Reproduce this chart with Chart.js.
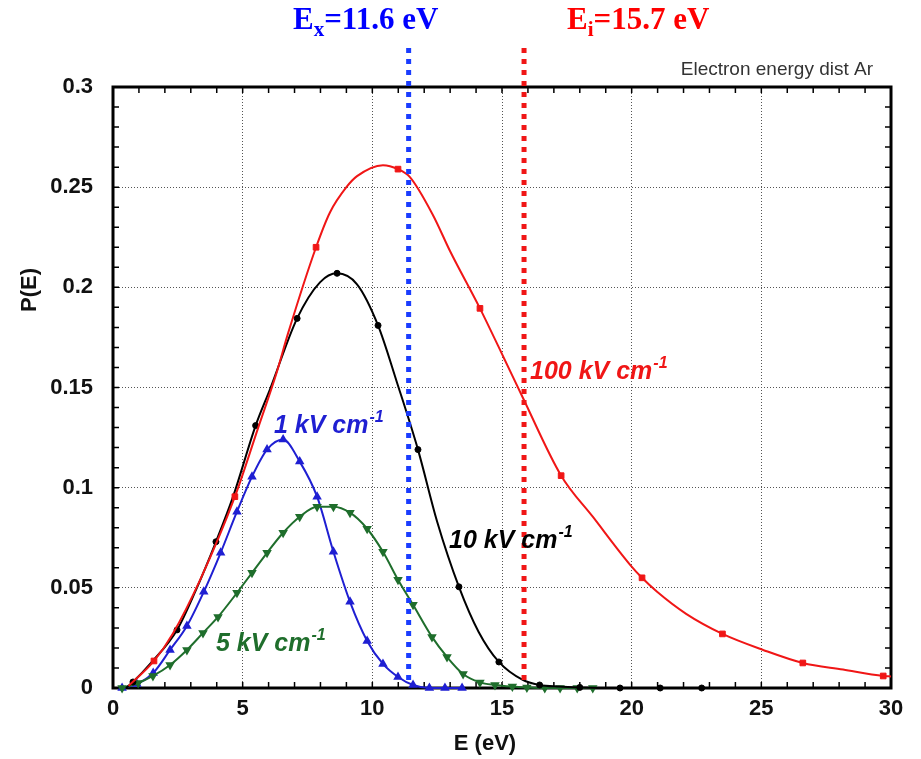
<!DOCTYPE html>
<html>
<head>
<meta charset="utf-8">
<script src="https://cdn.jsdelivr.net/npm/chart.js@4.4.1/dist/chart.umd.min.js"></script>
<style>
  html, body { margin: 0; padding: 0; background: #fff; }
</style>
</head>
<body>
<canvas id="chart" width="921" height="759"></canvas>
<script>
// Values: energy E (eV) and P(E)

// 1 kV/cm (blue, markers on every point)
const e1kV = [0.35, 0.92, 1.55, 2.2, 2.85, 3.5, 4.15, 4.78, 5.36, 5.94, 6.56, 7.2, 7.87, 8.5, 9.14, 9.8, 10.41, 10.99, 11.57, 12.2, 12.8, 13.46];
const p1kV = [0, 0.002, 0.0075, 0.019, 0.031, 0.048, 0.0675, 0.088, 0.1055, 0.119, 0.124, 0.113, 0.0955, 0.068, 0.043, 0.0235, 0.012, 0.0055, 0.0015, 0, 0, 0];

// 5 kV/cm (green, markers on every point)
const e5kV = [0.35, 0.97, 1.54, 2.2, 2.85, 3.47, 4.05, 4.78, 5.36, 5.94, 6.56, 7.2, 7.87, 8.5, 9.14, 9.8, 10.41, 10.99, 11.57, 12.3, 12.88, 13.5, 14.15, 14.73, 15.4, 15.96, 16.65, 17.24, 17.9, 18.5];
const p5kV = [0, 0.0025, 0.006, 0.0115, 0.019, 0.0275, 0.0355, 0.0475, 0.0575, 0.0675, 0.0775, 0.0855, 0.0905, 0.0905, 0.0875, 0.0795, 0.068, 0.054, 0.0415, 0.0255, 0.0155, 0.007, 0.0028, 0.0015, 0.0007, 0.0003, 0, 0, 0, 0];

// 10 kV/cm (black): curve and marker points
const e10kV = [0.5, 0.77, 1.5, 2.47, 3.2, 3.97, 4.63, 5.5, 6.05, 7.1, 7.98, 8.64, 9.41, 10.22, 10.95, 11.76, 12.5, 13.34, 14.1, 14.88, 15.8, 16.45, 17.2, 18.0, 19.55, 21.1, 22.7];
const p10kV = [0, 0.003, 0.013, 0.029, 0.049, 0.073, 0.0955, 0.131, 0.149, 0.1845, 0.2025, 0.207, 0.2015, 0.181, 0.1525, 0.119, 0.083, 0.0505, 0.028, 0.013, 0.004, 0.0015, 0.0007, 0.0003, 0, 0, 0];
const e10kVMarks = [0.77, 2.47, 3.97, 5.5, 7.1, 8.64, 10.22, 11.76, 13.34, 14.88, 16.45, 18.0, 19.55, 21.1, 22.7];
const p10kVMarks = [0.003, 0.029, 0.073, 0.131, 0.1845, 0.207, 0.181, 0.119, 0.0505, 0.013, 0.0015, 0.0003, 0, 0, 0];

// 100 kV/cm (red): curve and marker points
const e100kV = [0.6, 1.58, 2.3, 3.36, 4.7, 5.6, 6.3, 6.75, 7.83, 8.37, 9.0, 9.41, 10.41, 10.99, 11.45, 12.34, 13.0, 14.15, 15.1, 15.8, 17.28, 18.5, 19.94, 20.4, 20.98, 22.1, 23.5, 25.07, 26.6, 28.15, 29.7, 30];
const p100kV = [0.001, 0.0135, 0.027, 0.054, 0.0955, 0.13, 0.157, 0.177, 0.22, 0.2375, 0.25, 0.2555, 0.261, 0.259, 0.255, 0.236, 0.218, 0.1895, 0.164, 0.145, 0.106, 0.0855, 0.0615, 0.055, 0.048, 0.037, 0.027, 0.019, 0.0125, 0.0092, 0.006, 0.0058];
const e100kVMarks = [1.58, 4.7, 7.83, 10.99, 14.15, 17.28, 20.4, 23.5, 26.6, 29.7];
const p100kVMarks = [0.0135, 0.0955, 0.22, 0.259, 0.1895, 0.106, 0.055, 0.027, 0.0125, 0.006];

// excitation / ionisation threshold lines, as drawn on the plot
const thresholdE = [11.4, 15.85];

const BLUE = '#1f1fd2';
const GREEN = '#1f6e2c';
const RED = '#f01616';
const BLACK = '#000000';

function pts(xs, ys) {
  return xs.map((x, i) => ({x: x, y: ys[i]}));
}

function curve(label, xs, ys, color, marker) {
  return {
    label: label,
    data: pts(xs, ys),
    borderColor: color,
    backgroundColor: color,
    borderWidth: 2,
    cubicInterpolationMode: 'monotone',
    pointStyle: marker || 'circle',
    pointRadius: marker ? 3.5 : 0,
    pointHoverRadius: 0,
    clip: false
  };
}

function marks(label, xs, ys, color, marker, r) {
  return {
    label: label,
    data: pts(xs, ys),
    showLine: false,
    borderColor: color,
    backgroundColor: color,
    pointStyle: marker,
    pointRadius: r,
    pointBorderWidth: 1,
    clip: false
  };
}

// text with a sub- or superscript part
function richText(ctx, x, y, parts) {
  let cx = x;
  parts.forEach(p => {
    ctx.font = p.font;
    ctx.fillText(p.text, cx, y + (p.dy || 0));
    cx += ctx.measureText(p.text).width + (p.gap || 0);
  });
}

const decor = {
  id: 'decor',
  beforeDatasetsDraw(chart) {
    const {ctx, chartArea: a, scales: {x, y}} = chart;
    ctx.save();
    ctx.strokeStyle = '#000';
    ctx.lineWidth = 1.5;
    // inward ticks on all four sides
    for (let v = 1; v < 30; v++) {
      const px = x.getPixelForValue(v);
      ctx.beginPath();
      ctx.moveTo(px, a.bottom); ctx.lineTo(px, a.bottom - 6);
      ctx.moveTo(px, a.top); ctx.lineTo(px, a.top + 6);
      ctx.stroke();
    }
    for (let k = 1; k < 30; k++) {
      const py = y.getPixelForValue(k / 100);
      ctx.beginPath();
      ctx.moveTo(a.left, py); ctx.lineTo(a.left + 6, py);
      ctx.moveTo(a.right, py); ctx.lineTo(a.right - 6, py);
      ctx.stroke();
    }
    ctx.lineWidth = 3;
    ctx.strokeRect(a.left, a.top, a.right - a.left, a.bottom - a.top);
    ctx.restore();
  },
  afterDatasetsDraw(chart) {
    const {ctx, chartArea: a, scales: {x}} = chart;
    ctx.save();
    // dotted threshold lines
    const lineColors = ['#1a3cff', '#f01616'];
    thresholdE.forEach((e, i) => {
      const px = x.getPixelForValue(e);
      ctx.strokeStyle = lineColors[i];
      ctx.lineWidth = 5;
      ctx.setLineDash([5, 6]);
      ctx.beginPath();
      ctx.moveTo(px, 48);
      ctx.lineTo(px, a.bottom - 2);
      ctx.stroke();
    });
    ctx.setLineDash([]);

    // threshold labels
    ctx.textBaseline = 'alphabetic';
    ctx.textAlign = 'left';
    const serif = '"Liberation Serif", "Times New Roman", serif';
    ctx.fillStyle = '#0000ff';
    richText(ctx, 293, 29, [
      {text: 'E', font: 'bold 31px ' + serif},
      {text: 'x', font: 'bold 21px ' + serif, dy: 7},
      {text: '=11.6 eV', font: 'bold 31px ' + serif}
    ]);
    ctx.fillStyle = '#ff0000';
    richText(ctx, 567, 29, [
      {text: 'E', font: 'bold 31px ' + serif},
      {text: 'i', font: 'bold 21px ' + serif, dy: 7},
      {text: '=15.7 eV', font: 'bold 31px ' + serif}
    ]);

    // corner caption
    ctx.fillStyle = '#333';
    ctx.font = '19px "Liberation Sans", Arial, sans-serif';
    ctx.textAlign = 'right';
    ctx.fillText('Electron energy dist Ar', 873, 75);
    ctx.textAlign = 'left';

    // curve labels
    const sans = '"Liberation Sans", Arial, sans-serif';
    const curveLabels = [
      ['1 kV cm', 274, 433, BLUE],
      ['5 kV cm', 216, 651, GREEN],
      ['10 kV cm', 449, 548, BLACK],
      ['100 kV cm', 530, 379, RED]
    ];
    curveLabels.forEach(([t, lx, ly, c]) => {
      ctx.fillStyle = c;
      richText(ctx, lx, ly, [
        {text: t, font: 'italic bold 25px ' + sans, gap: 1},
        {text: '-1', font: 'italic bold 16px ' + sans, dy: -11}
      ]);
    });

    // axis titles
    ctx.fillStyle = '#111';
    ctx.font = 'bold 22px ' + sans;
    ctx.textAlign = 'center';
    ctx.textBaseline = 'middle';
    ctx.fillText('E (eV)', 485, 744);
    ctx.translate(30, 290);
    ctx.rotate(-Math.PI / 2);
    ctx.fillText('P(E)', 0, 0);
    ctx.restore();
  }
};

const tickFont = {family: '"Liberation Sans", Arial, sans-serif', size: 22, weight: 'bold'};

new Chart(document.getElementById('chart'), {
  type: 'line',
  data: {
    datasets: [
      curve('100 kV/cm', e100kV, p100kV, RED),
      marks('100 kV/cm marks', e100kVMarks, p100kVMarks, RED, 'rect', 4),
      curve('10 kV/cm', e10kV, p10kV, BLACK),
      marks('10 kV/cm marks', e10kVMarks, p10kVMarks, BLACK, 'circle', 3),
      curve('5 kV/cm', e5kV, p5kV, GREEN, 'triangle'),
      curve('1 kV/cm', e1kV, p1kV, BLUE, 'triangle')
    ]
  },
  options: {
    responsive: false,
    animation: false,
    events: [],
    layout: {padding: {top: 87, right: 30, left: 0, bottom: 0}},
    plugins: {
      legend: {display: false},
      tooltip: {enabled: false}
    },
    scales: {
      x: {
        type: 'linear',
        min: 0,
        max: 30,
        ticks: {stepSize: 5, font: tickFont, color: '#111', padding: 8},
        grid: {color: '#555', lineWidth: 1, drawTicks: false},
        border: {display: false, dash: [1, 2]},
        afterFit(scale) { scale.height = 71; }
      },
      y: {
        type: 'linear',
        min: 0,
        max: 0.3,
        ticks: {
          stepSize: 0.05,
          font: tickFont,
          color: '#111',
          padding: 20,
          callback: v => String(+v.toFixed(2))
        },
        grid: {color: '#555', lineWidth: 1, drawTicks: false},
        border: {display: false, dash: [1, 2]},
        afterFit(scale) { scale.width = 113; }
      }
    }
  },
  plugins: [decor]
});

// green markers point downwards
const chart = Chart.getChart('chart');
chart.data.datasets[4].pointRotation = 180;
chart.update();
</script>
</body>
</html>
